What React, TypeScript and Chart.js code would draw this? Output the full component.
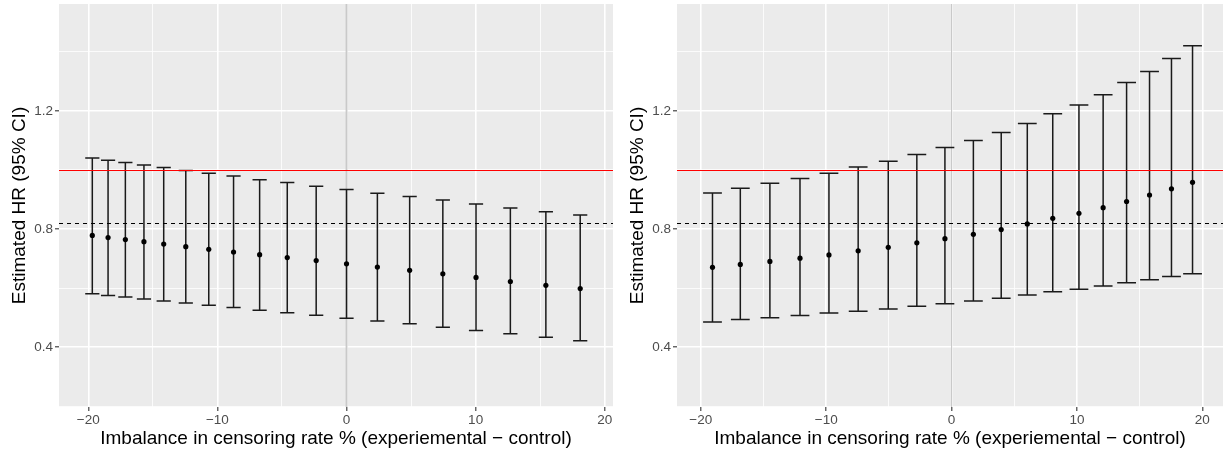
import React, { useEffect, useRef } from "react";
import { Chart, registerables } from "chart.js";

Chart.register(...registerables);

// ---- Data ----
const leftX = [-19.69, -18.47, -17.13, -15.69, -14.16, -12.45, -10.67, -8.75, -6.73, -4.59, -2.35, 0, 2.39, 4.89, 7.46, 10.03, 12.69, 15.44, 18.1];
const leftHR = [0.778, 0.771, 0.764, 0.757, 0.749, 0.74, 0.731, 0.722, 0.713, 0.703, 0.693, 0.682, 0.671, 0.66, 0.648, 0.636, 0.622, 0.609, 0.598];
const leftLo = [0.581, 0.575, 0.57, 0.563, 0.556, 0.549, 0.542, 0.534, 0.525, 0.516, 0.508, 0.498, 0.488, 0.479, 0.467, 0.456, 0.445, 0.433, 0.421];
const leftHi = [1.04, 1.033, 1.025, 1.017, 1.008, 0.998, 0.989, 0.979, 0.967, 0.957, 0.945, 0.934, 0.921, 0.91, 0.898, 0.885, 0.871, 0.858, 0.847];

const rightX = [-19.07, -16.85, -14.49, -12.09, -9.78, -7.45, -5.05, -2.77, -0.53, 1.74, 3.96, 6.04, 8.07, 10.16, 12.09, 13.96, 15.79, 17.54, 19.22];
const rightHR = [0.67, 0.68, 0.69, 0.701, 0.712, 0.726, 0.738, 0.753, 0.767, 0.782, 0.798, 0.817, 0.836, 0.853, 0.872, 0.893, 0.915, 0.936, 0.958];
const rightLo = [0.485, 0.493, 0.499, 0.507, 0.515, 0.521, 0.529, 0.538, 0.547, 0.556, 0.565, 0.576, 0.587, 0.596, 0.607, 0.618, 0.628, 0.639, 0.648];
const rightHi = [0.922, 0.938, 0.955, 0.971, 0.989, 1.01, 1.029, 1.052, 1.076, 1.1, 1.127, 1.157, 1.19, 1.22, 1.255, 1.296, 1.333, 1.377, 1.421];

const X_TICKS = [-20, -15, -10, -5, 0, 5, 10, 15, 20];
const X_MAJOR = [-20, -10, 0, 10, 20];
const Y_TICKS = [0.2, 0.4, 0.6, 0.8, 1.0, 1.2, 1.4];
const Y_MAJOR = [0.4, 0.8, 1.2];

const REF_NULL = 1.0;
const REF_OBS = 0.82;
const VLINE_X = 0;

const X_TITLE = "Imbalance in censoring rate % (experiemental \u2212 control)";
const Y_TITLE = "Estimated HR (95% CI)";

const FONT = "'Liberation Sans', Arial, Helvetica, sans-serif";

const isIn = (arr: number[], v: number) => arr.some((m) => Math.abs(m - v) < 1e-9);
const fmtNum = (v: number, dec: number) => {
  const s = Math.abs(v).toFixed(dec);
  return v < 0 ? "\u2212" + s : s;
};

const bgPlugin = {
  id: "panelBg",
  beforeDraw(chart: any) {
    const { ctx, chartArea } = chart;
    ctx.save();
    ctx.fillStyle = "#EBEBEB";
    ctx.fillRect(chartArea.left, chartArea.top, chartArea.right - chartArea.left, chartArea.bottom - chartArea.top);
    ctx.restore();
  },
};

const errPlugin = {
  id: "errorBars",
  beforeDatasetsDraw(chart: any, _args: any, opts: any) {
    const { ctx, chartArea } = chart;
    const xs = chart.scales.x;
    const ys = chart.scales.y;
    ctx.save();
    ctx.beginPath();
    ctx.rect(chartArea.left, chartArea.top, chartArea.right - chartArea.left, chartArea.bottom - chartArea.top);
    ctx.clip();

    // vertical reference at 0
    const vx = xs.getPixelForValue(VLINE_X);
    ctx.strokeStyle = "#C9C9C9";
    ctx.lineWidth = opts.vlineWidth;
    ctx.beginPath();
    ctx.moveTo(vx, chartArea.top);
    ctx.lineTo(vx, chartArea.bottom);
    ctx.stroke();

    // error bars
    ctx.strokeStyle = "#1A1A1A";
    ctx.lineWidth = 1.5;
    const { x, lo, hi, capHalf } = opts;
    for (let i = 0; i < x.length; i++) {
      const px = xs.getPixelForValue(x[i]);
      const pl = xs.getPixelForValue(x[i] - capHalf);
      const pr = xs.getPixelForValue(x[i] + capHalf);
      const yl = ys.getPixelForValue(lo[i]);
      const yh = ys.getPixelForValue(hi[i]);
      ctx.beginPath();
      ctx.moveTo(px, yl);
      ctx.lineTo(px, yh);
      ctx.moveTo(pl, yl);
      ctx.lineTo(pr, yl);
      ctx.moveTo(pl, yh);
      ctx.lineTo(pr, yh);
      ctx.stroke();
    }

    // horizontal references
    const yr = Math.round(ys.getPixelForValue(REF_NULL)) + 0.5;
    ctx.strokeStyle = "#FF0000";
    ctx.lineWidth = 1.2;
    ctx.beginPath();
    ctx.moveTo(chartArea.left, yr);
    ctx.lineTo(chartArea.right, yr);
    ctx.stroke();

    const yd = Math.round(ys.getPixelForValue(REF_OBS)) + 0.5;
    ctx.strokeStyle = "#000000";
    ctx.lineWidth = 1.2;
    ctx.setLineDash([4, 4]);
    ctx.beginPath();
    ctx.moveTo(chartArea.left, yd);
    ctx.lineTo(chartArea.right, yd);
    ctx.stroke();
    ctx.setLineDash([]);

    ctx.restore();
  },
};

type PanelProps = {
  xs: number[];
  hr: number[];
  lo: number[];
  hi: number[];
  xMin: number;
  xMax: number;
  capHalf: number;
  padRight: number;
  width: number;
  vlineWidth: number;
};

function Panel({ xs, hr, lo, hi, xMin, xMax, capHalf, padRight, width, vlineWidth }: PanelProps) {
  const ref = useRef<HTMLCanvasElement>(null);
  useEffect(() => {
    if (!ref.current) return;
    const chart = new Chart(ref.current, {
      type: "scatter",
      data: {
        datasets: [
          {
            data: xs.map((x, i) => ({ x, y: hr[i] })),
            pointRadius: 2.6,
            pointBackgroundColor: "#000000",
            pointBorderWidth: 0,
            showLine: false,
          },
        ],
      },
      options: {
        animation: false,
        responsive: false,
        maintainAspectRatio: false,
        layout: { padding: { top: 3, right: padRight, left: 0, bottom: 0 } },
        plugins: {
          legend: { display: false },
          tooltip: { enabled: false },
          errorBars: { x: xs, lo, hi, capHalf, vlineWidth },
        } as any,
        scales: {
          x: {
            type: "linear",
            min: xMin,
            max: xMax,
            afterBuildTicks: (s: any) => {
              s.ticks = X_TICKS.map((v) => ({ value: v }));
            },
            afterFit: (s: any) => {
              s.height = 45;
              s.paddingLeft = 0;
              s.paddingRight = 0;
            },
            border: { display: false },
            grid: {
              color: "#FFFFFF",
              lineWidth: (c: any) => (c.tick && isIn(X_MAJOR, c.tick.value) ? 1.6 : 0.8),
              drawTicks: true,
              tickLength: 4,
              tickColor: (c: any) => (c.tick && isIn(X_MAJOR, c.tick.value) ? "#333333" : "rgba(0,0,0,0)"),
              tickWidth: 1.1,
            } as any,
            ticks: {
              autoSkip: false,
              maxRotation: 0,
              padding: 1,
              color: "#4D4D4D",
              font: { family: FONT, size: 13.5 },
              callback: (v: any) => (isIn(X_MAJOR, Number(v)) ? fmtNum(Number(v), 0) : ""),
            },
            title: {
              display: true,
              text: X_TITLE,
              color: "#000000",
              font: { family: FONT, size: 19 },
              padding: { top: 0, bottom: 2 },
            },
          },
          y: {
            type: "linear",
            min: 0.197,
            max: 1.562,
            afterBuildTicks: (s: any) => {
              s.ticks = Y_TICKS.map((v) => ({ value: v }));
            },
            afterFit: (s: any) => {
              s.width = 59;
              s.paddingTop = 0;
              s.paddingBottom = 0;
            },
            border: { display: false },
            grid: {
              color: "#FFFFFF",
              lineWidth: (c: any) => (c.tick && isIn(Y_MAJOR, c.tick.value) ? 1.6 : 0.8),
              drawTicks: true,
              tickLength: 4,
              tickColor: (c: any) => (c.tick && isIn(Y_MAJOR, c.tick.value) ? "#333333" : "rgba(0,0,0,0)"),
              tickWidth: 1.1,
            } as any,
            ticks: {
              autoSkip: false,
              padding: 2,
              color: "#4D4D4D",
              font: { family: FONT, size: 13.5 },
              callback: (v: any) => (isIn(Y_MAJOR, Number(v)) ? fmtNum(Number(v), 1) : ""),
            },
            title: {
              display: true,
              text: Y_TITLE,
              color: "#000000",
              font: { family: FONT, size: 19 },
              padding: { top: 8, bottom: 0 },
            },
          },
        },
      },
      plugins: [bgPlugin, errPlugin],
    });
    return () => chart.destroy();
  }, []);
  return <canvas ref={ref} width={width} height={452} style={{ display: "block", width, height: 452 }} />;
}

export default function App() {
  return (
    <div
      style={{
        position: "absolute",
        left: 0,
        top: 0,
        width: 1227,
        height: 452,
        display: "flex",
        background: "#FFFFFF",
        overflow: "hidden",
      }}
    >
      <Panel xs={leftX} hr={leftHR} lo={leftLo} hi={leftHi} xMin={-22.27} xMax={20.64} capHalf={0.55} padRight={5} width={618} vlineWidth={1.8} />
      <Panel xs={rightX} hr={rightHR} lo={rightLo} hi={rightHi} xMin={-21.9} xMax={21.65} capHalf={0.75} padRight={0} width={609} vlineWidth={1.1} />
    </div>
  );
}
